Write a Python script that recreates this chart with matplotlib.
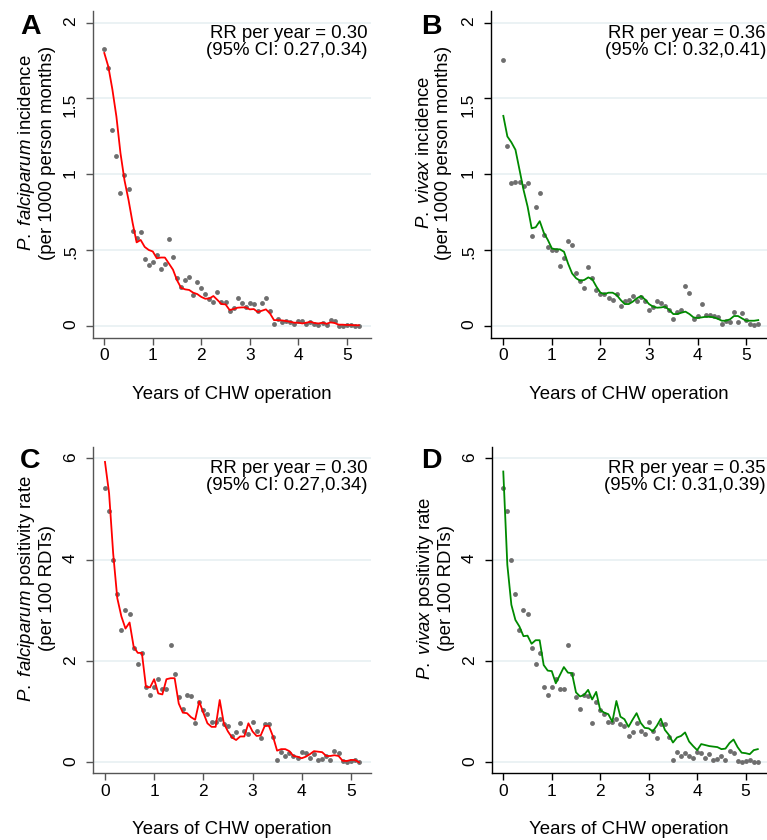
import numpy as np
import matplotlib.pyplot as plt

plt.rcParams['font.family'] = ['Liberation Sans', 'DejaVu Sans']
plt.rcParams['mathtext.fontset'] = 'custom'
plt.rcParams['mathtext.rm'] = 'Liberation Sans'
plt.rcParams['mathtext.it'] = 'Liberation Sans:italic'

# monthly time points (years of CHW operation)
years_64 = np.arange(64) / 12
years_63 = np.arange(63) / 12

# A: P. falciparum incidence (per 1000 person months)
pf_inc_pts = [1.826, 1.70, 1.29, 1.12, 0.877, 0.993, 0.90, 0.626, 0.577, 0.621,
              0.44, 0.399, 0.42, 0.465, 0.377, 0.41, 0.573, 0.454, 0.313, 0.255,
              0.299, 0.322, 0.205, 0.288, 0.247, 0.21, 0.176, 0.159, 0.22, 0.159,
              0.156, 0.099, 0.119, 0.183, 0.152, 0.126, 0.148, 0.141, 0.097, 0.152,
              0.185, 0.099, 0.009, 0.044, 0.022, 0.031, 0.022, 0.011, 0.033, 0.031,
              0.011, 0.022, 0.009, 0.007, 0.02, 0.007, 0.037, 0.033, 0.0, 0.0,
              0.004, 0.004, 0.0, 0.0]
pf_inc_fit = [1.80, 1.71, 1.56, 1.38, 1.14, 0.96, 0.83, 0.68, 0.55, 0.566,
              0.52, 0.50, 0.49, 0.445, 0.45, 0.45, 0.41, 0.37, 0.30, 0.25,
              0.24, 0.236, 0.218, 0.209, 0.19, 0.178, 0.18, 0.196, 0.17, 0.143,
              0.141, 0.104, 0.11, 0.119, 0.121, 0.121, 0.108, 0.11, 0.09, 0.099,
              0.108, 0.081, 0.037, 0.037, 0.035, 0.031, 0.026, 0.02, 0.02, 0.015,
              0.02, 0.026, 0.018, 0.015, 0.02, 0.013, 0.022, 0.018, 0.007, 0.007,
              0.005, 0.005, 0.003, 0.003]

# B: P. vivax incidence
pv_inc_pts = [1.753, 1.185, 0.943, 0.947, 0.947, 0.925, 0.945, 0.59, 0.784, 0.879,
              0.601, 0.518, 0.502, 0.50, 0.396, 0.445, 0.562, 0.533, 0.348, 0.297,
              0.251, 0.39, 0.317, 0.233, 0.207, 0.209, 0.183, 0.172, 0.207, 0.128,
              0.165, 0.167, 0.194, 0.161, 0.192, 0.163, 0.104, 0.123, 0.165, 0.148,
              0.128, 0.104, 0.042, 0.09, 0.106, 0.264, 0.214, 0.046, 0.062, 0.145,
              0.07, 0.068, 0.066, 0.055, 0.011, 0.031, 0.024, 0.09, 0.026, 0.084,
              0.037, 0.009, 0.002, 0.013]
pv_inc_fit = [1.385, 1.249, 1.21, 1.161, 1.029, 0.896, 0.786, 0.643, 0.650, 0.69,
              0.614, 0.566, 0.51, 0.504, 0.504, 0.488, 0.41, 0.345, 0.313, 0.297,
              0.302, 0.319, 0.306, 0.258, 0.218, 0.209, 0.218, 0.218, 0.203, 0.17,
              0.143, 0.143, 0.159, 0.181, 0.196, 0.174, 0.143, 0.126, 0.119, 0.121,
              0.126, 0.104, 0.077, 0.077, 0.086, 0.093, 0.077, 0.055, 0.051, 0.055,
              0.059, 0.059, 0.055, 0.046, 0.033, 0.033, 0.042, 0.064, 0.064, 0.048,
              0.033, 0.033, 0.033, 0.037]

# C: P. falciparum positivity rate (per 100 RDTs)
pf_rate_pts = [5.41, 4.96, 4.0, 3.32, 2.61, 3.0, 2.93, 2.26, 1.94, 2.15,
               1.49, 1.32, 1.49, 1.64, 1.45, 1.44, 2.31, 1.74, 1.28, 1.06,
               1.33, 1.3, 0.78, 1.19, 1.03, 0.96, 0.79, 0.79, 0.85, 0.75,
               0.71, 0.51, 0.59, 0.77, 0.61, 0.55, 0.79, 0.61, 0.47, 0.75,
               0.75, 0.50, 0.05, 0.2, 0.13, 0.18, 0.12, 0.08, 0.2, 0.18,
               0.09, 0.16, 0.05, 0.06, 0.12, 0.05, 0.22, 0.18, 0.02, 0.0,
               0.03, 0.05, 0.0]
pf_rate_fit = [5.93, 5.31, 4.12, 3.24, 2.88, 2.64, 2.76, 2.28, 2.16, 2.16,
               1.49, 1.48, 1.64, 1.36, 1.34, 1.64, 1.66, 1.66, 1.16, 0.98,
               0.97, 0.89, 0.84, 1.2, 0.98, 0.77, 0.70, 0.70, 1.23, 0.77,
               0.61, 0.49, 0.44, 0.51, 0.51, 0.77, 0.61, 0.52, 0.53, 0.72,
               0.72, 0.51, 0.23, 0.26, 0.26, 0.22, 0.125, 0.11, 0.08, 0.11,
               0.16, 0.22, 0.21, 0.20, 0.125, 0.125, 0.14, 0.125, 0.03, 0.026,
               0.046, 0.046, 0.0]

# D: P. vivax positivity rate
pv_rate_pts = [5.41, 4.96, 4.0, 3.32, 2.61, 3.0, 2.93, 2.26, 1.94, 2.15,
               1.49, 1.32, 1.49, 1.64, 1.45, 1.44, 2.31, 1.74, 1.28, 1.06,
               1.33, 1.3, 0.78, 1.19, 1.03, 0.96, 0.79, 0.79, 0.85, 0.75,
               0.71, 0.51, 0.59, 0.77, 0.61, 0.55, 0.79, 0.61, 0.47, 0.75,
               0.75, 0.50, 0.05, 0.2, 0.13, 0.18, 0.12, 0.08, 0.2, 0.18,
               0.09, 0.16, 0.05, 0.06, 0.12, 0.05, 0.22, 0.18, 0.02, 0.0,
               0.03, 0.05, 0.0, 0.0]
pv_rate_fit = [5.74, 3.9, 3.11, 2.81, 2.68, 2.49, 2.5, 2.34, 2.41, 2.41,
               1.92, 1.81, 1.80, 1.56, 1.72, 1.88, 1.77, 1.76, 1.38, 1.30,
               1.33, 1.43, 1.24, 1.39, 1.03, 0.98, 0.95, 0.80, 1.21, 0.90,
               0.85, 0.70, 0.84, 0.97, 0.78, 0.68, 0.67, 0.61, 0.72, 0.86,
               0.64, 0.54, 0.39, 0.49, 0.52, 0.59, 0.41, 0.32, 0.24, 0.36,
               0.34, 0.32, 0.31, 0.30, 0.26, 0.27, 0.38, 0.45, 0.30, 0.19,
               0.18, 0.16, 0.24, 0.26]

inc_ticks = [0, 0.5, 1, 1.5, 2]
inc_ticklabels = ["0", ".5", "1", "1.5", "2"]
rate_ticks = [0, 2, 4, 6]
rate_ticklabels = ["0", "2", "4", "6"]

W, H = 767, 840
fig = plt.figure(figsize=(W / 100, H / 100), dpi=100)


def rect(left, top, right, bottom):
    return [left / W, 1 - bottom / H, (right - left) / W, (bottom - top) / H]


panels = [
    ("A", rect(92.7, 11, 371, 338), years_64, pf_inc_pts, pf_inc_fit, "#ff0000",
     r"$\mathit{P.\ falciparum}$ incidence" + "\n(per 1000 person months)",
     inc_ticks, inc_ticklabels, (-0.081, 2.077), (-0.239, 5.50),
     "RR per year = 0.30\n(95% CI: 0.27,0.34)", "#555555"),
    ("B", rect(490.7, 11, 767, 338), years_64, pv_inc_pts, pv_inc_fit, "#008a00",
     r"$\mathit{P.\ vivax}$ incidence" + "\n(per 1000 person months)",
     inc_ticks, inc_ticklabels, (-0.081, 2.077), (-0.26, 5.43),
     "RR per year = 0.36\n(95% CI: 0.32,0.41)", "#000000"),
    ("C", rect(92.7, 446.7, 371, 773.3), years_63, pf_rate_pts, pf_rate_fit, "#ff0000",
     r"$\mathit{P.\ falciparum}$ positivity rate" + "\n(per 100 RDTs)",
     rate_ticks, rate_ticklabels, (-0.217, 6.23), (-0.25, 5.41),
     "RR per year = 0.30\n(95% CI: 0.27,0.34)", "#555555"),
    ("D", rect(491.5, 446.7, 767, 773.3), years_64, pv_rate_pts, pv_rate_fit, "#008a00",
     r"$\mathit{P.\ vivax}$ positivity rate" + "\n(per 100 RDTs)",
     rate_ticks, rate_ticklabels, (-0.217, 6.23), (-0.243, 5.44),
     "RR per year = 0.35\n(95% CI: 0.31,0.39)", "#000000"),
]

for letter, r, x, pts, fit, color, ylab, yt, ytl, ylim, xlim, note, axcol in panels:
    ax = fig.add_axes(r)
    ax.set_xlim(*xlim)
    ax.set_ylim(*ylim)
    for s in ("top", "right"):
        ax.spines[s].set_visible(False)
    for s in ("left", "bottom"):
        ax.spines[s].set_color(axcol)
        ax.spines[s].set_linewidth(1.0)
    ax.set_yticks(yt)
    ax.set_yticklabels(ytl)
    ax.set_xticks([0, 1, 2, 3, 4, 5])
    ax.tick_params(axis="both", colors=axcol, labelcolor="black", length=5,
                   width=1.0, labelsize=12.5)
    ax.tick_params(axis="y", labelrotation=90, pad=5.5)
    ax.tick_params(axis="x", pad=2.5)
    ax.grid(axis="y", color="#e6eff1", linewidth=1.1)
    ax.set_axisbelow(True)

    ax.plot(x, pts, "o", color="#6e6e6e", ms=3.5, mec="none", zorder=2)
    ax.plot(x, fit, color=color, lw=1.3, zorder=3)

    ax.text(0.988 if letter in "AC" else 0.996, 0.958, note, transform=ax.transAxes,
            ha="right", va="top", multialignment="right", fontsize=13.4,
            linespacing=1.0)
    ax.set_xlabel("Years of CHW operation", fontsize=13.4)
    ax.xaxis.set_label_coords(0.5, -0.146)
    ax.xaxis.label.set_va("top")
    ax.text(-0.205, 0.567, ylab, transform=ax.transAxes, rotation=90,
            ha="center", va="center", multialignment="center", fontsize=13.4,
            linespacing=1.15)

    fx = 20 if letter in "AC" else 421
    fy = 34 if letter in "AB" else 468
    fig.text(fx / W, 1 - fy / H, letter, fontsize=20.5, fontweight="bold",
             ha="left", va="baseline")

fig.savefig("out.png", dpi=100)
